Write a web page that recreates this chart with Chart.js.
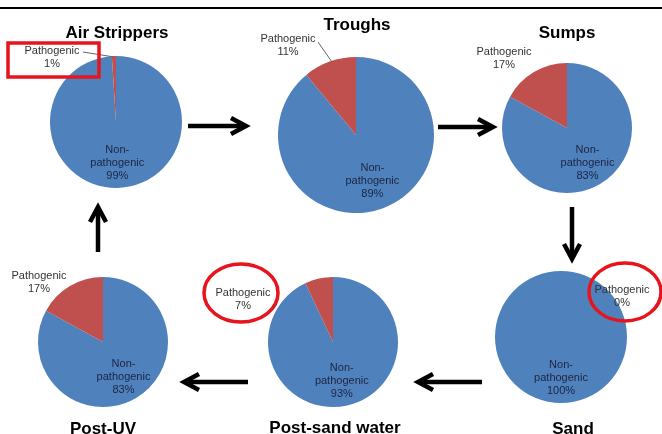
<!DOCTYPE html>
<html>
<head>
<meta charset="utf-8">
<script src="https://cdn.jsdelivr.net/npm/chart.js@4.4.0/dist/chart.umd.min.js"></script>
<style>
  html, body { margin: 0; padding: 0; background: #fff; }
  body { width: 662px; height: 434px; position: relative; overflow: hidden; font-family: "Liberation Sans", Arial, sans-serif; }
  .pie { position: absolute; }
  .title { position: absolute; transform: translate(-50%, -50%); font-weight: bold; font-size: 17px; line-height: 1; white-space: nowrap; color: #000; }
  #topline { position: absolute; left: 0; top: 7px; width: 662px; height: 2px; background: #000; }
  svg { position: absolute; left: 0; top: 0; pointer-events: none; }
</style>
</head>
<body>
<div id="topline"></div>

<script>
// stages of the treatment train, in drawing order
const stages = ['Air Strippers', 'Troughs', 'Sumps', 'Sand', 'Post-sand water', 'Post-UV'];
const categories = ['Non-pathogenic', 'Pathogenic'];
const nonPathogenic = [99, 89, 83, 100, 93, 83];
const pathogenic = [1, 11, 17, 0, 7, 17];

// where each pie sits on the page (center, radius, title, outside label)
const layout = [
    { cx: 116, cy: 122, r: 66, tx: 117, ty: 32, lx: -64, ly: -65, leader: [[-33, -70], [-2, -65]] },
    { cx: 356, cy: 135, r: 78, tx: 357, ty: 24, lx: -68, ly: -90, leader: [[-38, -93], [-24, -73]] },
    { cx: 567, cy: 128, r: 65, tx: 567, ty: 32, lx: -63, ly: -70 },
    { cx: 561, cy: 337, r: 66, tx: 573, ty: 428, lx: 61, ly: -41 },
    { cx: 333, cy: 342, r: 65, tx: 335, ty: 427, lx: -90, ly: -43 },
    { cx: 103, cy: 342, r: 65, tx: 103, ty: 428, lx: -64, ly: -60 }
];

const colors = ['#4F81BD', '#C0504D'];
const SIZE = 250;

const labelPlugin = {
    id: 'sliceLabels',
    afterDatasetsDraw(chart) {
        const ctx = chart.ctx;
        const lay = chart.options.plugins.sliceLabels;
        const data = chart.data.datasets[0].data;
        const total = data.reduce((a, b) => a + b, 0);
        const arc = chart.getDatasetMeta(0).data[0];
        const p = arc.getProps(['x', 'y', 'startAngle', 'endAngle', 'outerRadius'], true);
        ctx.save();
        ctx.font = '11px "Liberation Sans", Arial, sans-serif';
        ctx.textAlign = 'center';
        ctx.textBaseline = 'middle';

        // inside label on the blue slice
        const mid = (p.startAngle + p.endAngle) / 2;
        const ix = p.x + Math.cos(mid) * p.outerRadius * 0.62;
        const iy = p.y + Math.sin(mid) * p.outerRadius * 0.62;
        ctx.fillStyle = '#1c2541';
        const inLines = ['Non-', 'pathogenic', Math.round(data[0] / total * 100) + '%'];
        inLines.forEach((t, i) => ctx.fillText(t, ix, iy + (i - 1) * 13));

        // outside label for the red slice
        const ox = p.x + lay.lx;
        const oy = p.y + lay.ly;
        ctx.fillStyle = '#333';
        ctx.fillText('Pathogenic', ox, oy - 6.5);
        ctx.fillText(Math.round(data[1] / total * 100) + '%', ox, oy + 6.5);

        if (lay.leader) {
            ctx.strokeStyle = '#666';
            ctx.lineWidth = 1;
            ctx.beginPath();
            ctx.moveTo(p.x + lay.leader[0][0], p.y + lay.leader[0][1]);
            ctx.lineTo(p.x + lay.leader[1][0], p.y + lay.leader[1][1]);
            ctx.stroke();
        }
        ctx.restore();
    }
};

stages.forEach((stage, i) => {
    const lay = layout[i];
    const canvas = document.createElement('canvas');
    canvas.className = 'pie';
    canvas.width = SIZE;
    canvas.height = SIZE;
    canvas.style.left = (lay.cx - SIZE / 2) + 'px';
    canvas.style.top = (lay.cy - SIZE / 2) + 'px';
    document.body.appendChild(canvas);

    const title = document.createElement('div');
    title.className = 'title';
    title.textContent = stage;
    title.style.left = lay.tx + 'px';
    title.style.top = lay.ty + 'px';
    document.body.appendChild(title);

    new Chart(canvas.getContext('2d'), {
        type: 'pie',
        data: {
            labels: categories,
            datasets: [{
                data: [nonPathogenic[i], pathogenic[i]],
                backgroundColor: colors,
                borderWidth: 0
            }]
        },
        options: {
            responsive: false,
            animation: false,
            layout: { padding: SIZE / 2 - lay.r },
            plugins: {
                legend: { display: false },
                tooltip: { enabled: false },
                sliceLabels: lay
            }
        },
        plugins: [labelPlugin]
    });
});
</script>

<svg width="662" height="434" viewBox="0 0 662 434">
  <g fill="none" stroke="#000" stroke-width="4.5" stroke-linejoin="miter" stroke-linecap="butt">
    <!-- Air Strippers -> Troughs -->
    <line x1="188" y1="126" x2="244" y2="126"/>
    <polyline points="231,118 246,126 231,134"/>
    <!-- Troughs -> Sumps -->
    <line x1="438" y1="127" x2="490" y2="127"/>
    <polyline points="478,119 493,127 478,135"/>
    <!-- Sumps -> Sand -->
    <line x1="572" y1="207" x2="572" y2="257"/>
    <polyline points="564,244 572,259 580,244"/>
    <!-- Sand -> Post-sand water -->
    <line x1="420" y1="382" x2="482" y2="382"/>
    <polyline points="433,374 418,382 433,390"/>
    <!-- Post-sand water -> Post-UV -->
    <line x1="186" y1="382" x2="248" y2="382"/>
    <polyline points="199,374 184,382 199,390"/>
    <!-- Post-UV -> Air Strippers -->
    <line x1="98" y1="210" x2="98" y2="252"/>
    <polyline points="90,222 98,207 106,222"/>
  </g>
  <g fill="none" stroke="#E8141B" stroke-width="3.5">
    <rect x="8" y="43" width="91" height="34"/>
    <ellipse cx="241" cy="293" rx="37" ry="29"/>
    <ellipse cx="625" cy="292" rx="36" ry="29"/>
  </g>
</svg>
</body>
</html>
